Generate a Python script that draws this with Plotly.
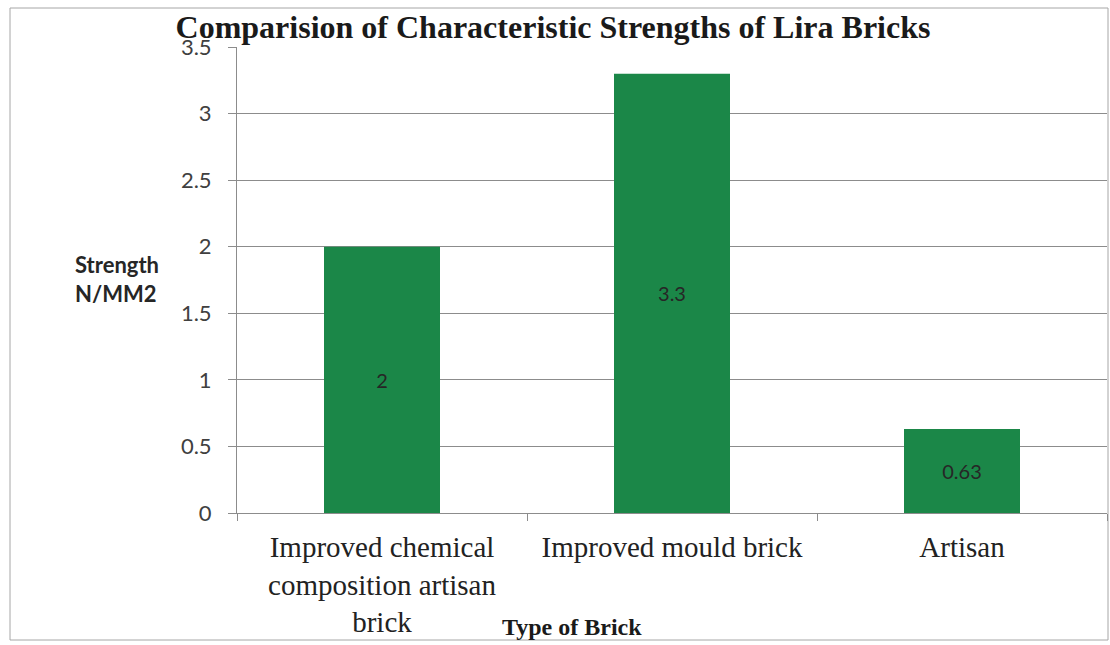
import plotly.graph_objects as go

# Brick types and their characteristic strengths (N/mm²)
categories = ["Improved chemical composition artisan brick", "Improved mould brick", "Artisan"]
tick_labels = ["Improved chemical<br>composition artisan<br>brick", "Improved mould brick", "Artisan"]
strengths = [2, 3.3, 0.63]
bar_labels = ["2", "3.3", "0.63"]

W, H = 1110, 645
# plot-area edges in pixels
L, R, T, B = 237, 1107, 47, 513
PW, PH = R - L, B - T

def px(x):
    return (x - L) / PW

def py(y):
    return (B - y) / PH

GREEN = "#1b8748"
GRID = "#8c8c8c"
TICK_FONT = dict(family="Lato, 'Noto Sans', sans-serif", size=22, color="#404040")

fig = go.Figure(
    go.Bar(
        x=categories,
        y=strengths,
        text=bar_labels,
        textposition="inside",
        insidetextanchor="middle",
        textangle=0,
        constraintext="none",
        textfont=dict(family="Lato, 'Noto Sans', sans-serif", size=20, color="#262626"),
        marker=dict(color=GREEN, line=dict(width=0)),
        hoverinfo="x+y",
    )
)

fig.update_layout(
    width=W,
    height=H,
    margin=dict(l=L, r=W - R, t=T, b=H - B, autoexpand=False),
    paper_bgcolor="white",
    plot_bgcolor="white",
    bargap=0.6,
    showlegend=False,
    title=dict(
        text="<b>Comparision of Characteristic Strengths of Lira Bricks</b>",
        font=dict(family="'Liberation Serif', 'Times New Roman', serif", size=32, color="#1a1a1a"),
        xref="container", yref="container",
        x=553 / W, y=1 - 27 / H,
        xanchor="center", yanchor="middle",
    ),
    xaxis=dict(
        tickmode="array",
        tickvals=categories,
        ticktext=tick_labels,
        tickson="boundaries",
        ticks="outside",
        ticklen=7,
        tickcolor=GRID,
        showline=True,
        linecolor=GRID,
        linewidth=1,
        showgrid=False,
        tickfont=dict(family="'Liberation Serif', 'Times New Roman', serif", size=29, color="#222222"),
        ticklabelstandoff=8,
        fixedrange=True,
    ),
    yaxis=dict(
        range=[0, 3.5],
        dtick=0.5,
        tick0=0,
        ticks="outside",
        ticklen=8,
        tickcolor=GRID,
        showline=True,
        linecolor=GRID,
        linewidth=1,
        showgrid=True,
        gridcolor=GRID,
        gridwidth=1,
        zeroline=False,
        tickfont=TICK_FONT,
        ticklabelstandoff=12,
        fixedrange=True,
    ),
    shapes=[
        dict(
            type="rect", xref="paper", yref="paper",
            x0=px(10), x1=px(1108), y0=py(640), y1=py(8),
            line=dict(color="#a6a6a6", width=1), fillcolor="rgba(0,0,0,0)",
            layer="below",
        )
    ],
    annotations=[
        dict(
            text="<b>Strength<br>N/MM2</b>",
            xref="paper", yref="paper",
            x=px(73), y=py(279),
            xanchor="left", yanchor="middle", align="left",
            showarrow=False,
            font=dict(family="Lato, 'Noto Sans', sans-serif", size=22, color="#262626"),
        ),
        dict(
            text="<b>Type of Brick</b>",
            xref="paper", yref="paper",
            x=px(572), y=py(627),
            xanchor="center", yanchor="middle",
            showarrow=False,
            font=dict(family="'Liberation Serif', 'Times New Roman', serif", size=24, color="#1a1a1a"),
        ),
    ],
)

fig.write_html("out.html")
